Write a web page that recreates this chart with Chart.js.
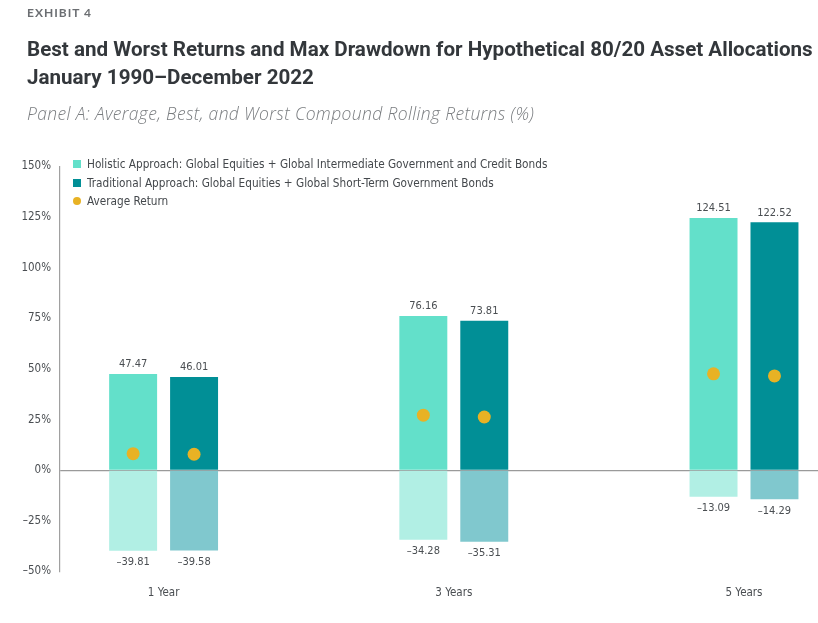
<!DOCTYPE html>
<html>
<head>
<meta charset="utf-8">
<script src="https://cdn.jsdelivr.net/npm/chart.js@4.4.0/dist/chart.umd.min.js"></script>
<style>
	body { margin: 0; background: #fff; }
	#wrap { position: relative; width: 818px; height: 623px; overflow: hidden; }
	#chart { position: absolute; left: 0; top: 0; }
	.exhibit { position: absolute; left: 27px; top: 5px; font: bold 12px 'Lato', sans-serif; letter-spacing: 1px; color: #6b6e72; }
	.title { position: absolute; left: 27px; top: 35px; font: bold 20.6px 'Roboto', sans-serif; color: #33373b; line-height: 28px; white-space: nowrap; }
	.sub { position: absolute; left: 27px; top: 101px; font: italic 300 17.5px 'Open Sans', sans-serif; letter-spacing: 0.35px; color: #7a7d80; white-space: nowrap; }
	.legend { position: absolute; left: 73px; top: 155px; font: 11.7px 'DejaVu Sans Condensed', sans-serif; color: #44484c; }
	.legend div { height: 18.5px; line-height: 18.5px; white-space: nowrap; }
	.sw { display: inline-block; width: 8px; height: 8px; margin-right: 6px; vertical-align: 0px; }
	.dot { border-radius: 50%; }
</style>
</head>
<body>
<div id="wrap">
	<canvas id="chart" width="818" height="623"></canvas>
	<div class="exhibit">EXHIBIT 4</div>
	<div class="title">Best and Worst Returns and Max Drawdown for Hypothetical 80/20 Asset Allocations<br>January 1990–December 2022</div>
	<div class="sub">Panel A: Average, Best, and Worst Compound Rolling Returns (%)</div>
	<div class="legend">
		<div><span class="sw" style="background:#63e0ca"></span>Holistic Approach: Global Equities + Global Intermediate Government and Credit Bonds</div>
		<div><span class="sw" style="background:#018f96"></span>Traditional Approach: Global Equities + Global Short-Term Government Bonds</div>
		<div><span class="sw dot" style="background:#e8b224"></span>Average Return</div>
	</div>
</div>
<script>
const categories = ['1 Year', '3 Years', '5 Years'];
const holisticBest = [47.47, 76.16, 124.51];
const holisticWorst = [-39.81, -34.28, -13.09];
const traditionalBest = [46.01, 73.81, 122.52];
const traditionalWorst = [-39.58, -35.31, -14.29];
const holisticAvg = [8.2, 27.2, 47.6];
const traditionalAvg = [7.9, 26.3, 46.6];
const yTicks = [-50, -25, 0, 25, 50, 75, 100, 125, 150];

const xy = (arr) => arr.map((v, i) => ({ x: i, y: v }));
const fmt = (v) => (v < 0 ? '–' : '') + Math.abs(v).toFixed(2);
const narrow = "'DejaVu Sans Condensed', sans-serif";

// value labels + average dots, drawn from the bar elements
const overlay = {
	id: 'overlay',
	afterDatasetsDraw(chart) {
		const ctx = chart.ctx;
		const y = chart.scales.y;
		ctx.save();
		ctx.font = '11px ' + narrow;
		ctx.fillStyle = '#4a4e52';
		ctx.textAlign = 'center';
		chart.data.datasets.forEach((ds, di) => {
			chart.getDatasetMeta(di).data.forEach((bar, i) => {
				const v = ds.data[i].y;
				if (v >= 0) {
					ctx.textBaseline = 'bottom';
					ctx.fillText(fmt(v), bar.x, bar.y - 4);
				} else {
					ctx.textBaseline = 'top';
					ctx.fillText(fmt(v), bar.x, bar.y + 6);
				}
			});
		});
		[[0, holisticAvg], [2, traditionalAvg]].forEach(([di, avg]) => {
			chart.getDatasetMeta(di).data.forEach((bar, i) => {
				ctx.beginPath();
				ctx.arc(bar.x, y.getPixelForValue(avg[i]), 6.5, 0, Math.PI * 2);
				ctx.fillStyle = '#e8b224';
				ctx.fill();
			});
		});
		ctx.restore();
	}
};

new Chart(document.getElementById('chart'), {
	type: 'bar',
	data: {
		datasets: [
			{ label: 'Holistic best', stack: 'h', data: xy(holisticBest), backgroundColor: '#63e0ca' },
			{ label: 'Holistic worst', stack: 'h', data: xy(holisticWorst), backgroundColor: '#b1efe4' },
			{ label: 'Traditional best', stack: 't', data: xy(traditionalBest), backgroundColor: '#018f96' },
			{ label: 'Traditional worst', stack: 't', data: xy(traditionalWorst), backgroundColor: '#80c8ce' },
		],
	},
	options: {
		responsive: false,
		animation: false,
		categoryPercentage: 0.42,
		barPercentage: 0.787,
		layout: { padding: { top: 166.5, right: 0, left: 0, bottom: 0 } },
		plugins: { legend: { display: false }, tooltip: { enabled: false } },
		scales: {
			x: {
				type: 'linear',
				offset: false,
				stacked: true,
				min: -0.357,
				max: 2.255,
				afterBuildTicks: (s) => { s.ticks = categories.map((c, i) => ({ value: i })); },
				afterFit: (s) => { s.height = 51.5; },
				ticks: {
					callback: (v) => categories[v],
					font: { family: narrow, size: 11.5 },
					color: '#4a4e52',
					padding: 7,
					maxRotation: 0,
				},
				grid: { display: false, offset: false },
				border: { display: false },
			},
			y: {
				stacked: true,
				min: -50,
				max: 150,
				afterBuildTicks: (s) => { s.ticks = yTicks.map((v) => ({ value: v })); },
				afterFit: (s) => { s.width = 60; },
				ticks: {
					callback: (v) => (v < 0 ? '–' : '') + Math.abs(v) + '%',
					font: { family: narrow, size: 11.5 },
					color: '#4a4e52',
					padding: 9,
				},
				grid: {
					drawTicks: false,
					color: (c) => (c.tick && c.tick.value === 0 ? '#9a9a9a' : 'rgba(0,0,0,0)'),
					lineWidth: 1.2,
				},
				border: { display: true, color: '#a0a0a0', width: 1.2 },
			},
		},
	},
	plugins: [overlay],
});
</script>
</body>
</html>
